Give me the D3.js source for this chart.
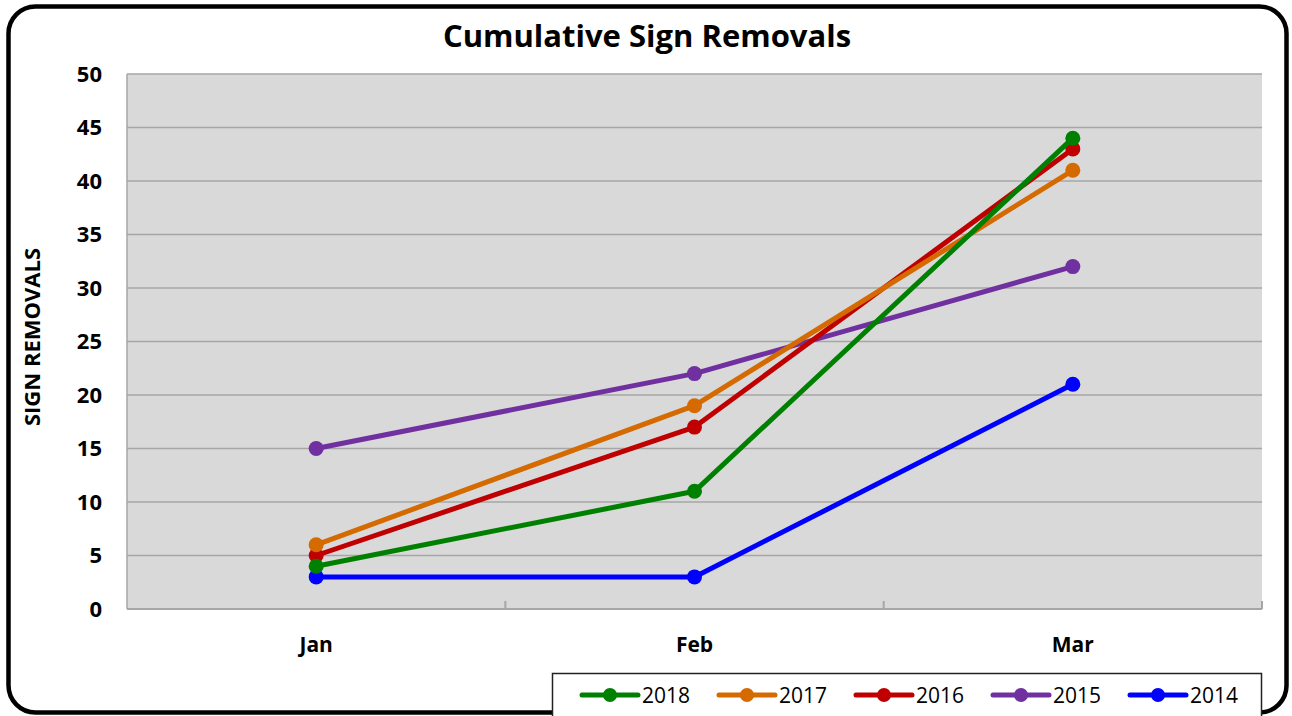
<!DOCTYPE html>
<html>
<head>
<meta charset="utf-8">
<script src="https://cdn.jsdelivr.net/npm/d3@7"></script>
<style>
  body { margin: 0; background: #fff; }
  svg text { font-family: "Open Sans", sans-serif; }
</style>
</head>
<body>
<div class="main__area"></div>
<script>
const months=["Jan","Feb","Mar"];
const seriesNames=["2018","2017","2016","2015","2014"];
const seriesColors=["#008000","#D46A00","#C00000","#7030A0","#0000FF"];
const values2018=[4, 11, 44];
const values2017=[6, 19, 41];
const values2016=[5, 17, 43];
const values2015=[15, 22, 32];
const values2014=[3, 3, 21];
const yTicks=[0,5,10,15,20,25,30,35,40,45,50];

const allValues=[values2018, values2017, values2016, values2015, values2014];

const width=1292;
const height=716;
const plot={ left:127, right:1262, top:74, bottom:609 };

const svgTag=d3.select(".main__area").append("svg")
    .attr("width", width)
    .attr("height", height);

// outer rounded frame
svgTag.append("rect")
    .attr("x", 8.5).attr("y", 6.5)
    .attr("width", 1278).attr("height", 706)
    .attr("rx", 27).attr("ry", 27)
    .attr("fill", "#fff")
    .attr("stroke", "#000")
    .attr("stroke-width", 4.5);

const x=d3.scaleBand().domain(months).range([plot.left, plot.right]);
const y=d3.scaleLinear().domain([0, 50]).range([plot.bottom, plot.top]);

svgTag.append("rect")
    .attr("x", plot.left).attr("y", plot.top)
    .attr("width", plot.right-plot.left).attr("height", plot.bottom-plot.top)
    .attr("fill", "#d9d9d9");

// horizontal grid
svgTag.append("g")
    .selectAll("line")
    .data(yTicks.filter(t => t>0))
    .join("line")
    .attr("x1", plot.left).attr("x2", plot.right)
    .attr("y1", d => y(d)).attr("y2", d => y(d))
    .attr("stroke", "#a6a6a6")
    .attr("stroke-width", 1.5);

// y axis labels
const yAxis=svgTag.append("g")
    .attr("transform", `translate(${plot.left},0)`)
    .call(d3.axisLeft(y).tickValues(yTicks).tickSize(0).tickPadding(25));
yAxis.select(".domain").remove();
yAxis.selectAll("text")
    .attr("font-family", "'Open Sans', sans-serif")
    .attr("font-size", 22).attr("font-weight", "bold").attr("fill", "#000");

// x axis: line + tick marks between categories
const xAxisG=svgTag.append("g");
xAxisG.append("line")
    .attr("x1", plot.left).attr("x2", plot.right)
    .attr("y1", plot.bottom).attr("y2", plot.bottom)
    .attr("stroke", "#a6a6a6").attr("stroke-width", 2);
xAxisG.append("line")
    .attr("x1", plot.left).attr("x2", plot.left)
    .attr("y1", plot.top).attr("y2", plot.bottom)
    .attr("stroke", "#a6a6a6").attr("stroke-width", 1.5);
const boundaries=months.slice(1).map(m => x(m)).concat([plot.right]);
xAxisG.selectAll(".tk")
    .data(boundaries)
    .join("line")
    .attr("x1", d => d).attr("x2", d => d)
    .attr("y1", plot.bottom-8).attr("y2", plot.bottom)
    .attr("stroke", "#a6a6a6").attr("stroke-width", 2);
xAxisG.selectAll(".lbl")
    .data(months)
    .join("text")
    .attr("x", d => x(d)+x.bandwidth()/2)
    .attr("y", 652)
    .attr("text-anchor", "middle")
    .attr("font-size", 21).attr("font-weight", "bold")
    .text(d => d);

// y axis title
svgTag.append("text")
    .attr("transform", "translate(40,337) rotate(-90)")
    .attr("text-anchor", "middle")
    .attr("font-size", 22).attr("font-weight", "bold")
    .text("SIGN REMOVALS");

// title
svgTag.append("text")
    .attr("x", 647).attr("y", 47)
    .attr("text-anchor", "middle")
    .attr("font-size", 31).attr("font-weight", "bold")
    .text("Cumulative Sign Removals");

// lines, drawn from 2014 up so 2018 is on top
const line=d3.line()
    .x((d, i) => x(months[i])+x.bandwidth()/2)
    .y(d => y(d));
const order=[4,3,2,1,0];
order.forEach(k => {
    const g=svgTag.append("g");
    g.append("path")
        .attr("d", line(allValues[k]))
        .attr("fill", "none")
        .attr("stroke", seriesColors[k])
        .attr("stroke-width", 5)
        .attr("stroke-linejoin", "round");
    g.selectAll("circle")
        .data(allValues[k])
        .join("circle")
        .attr("cx", (d, i) => x(months[i])+x.bandwidth()/2)
        .attr("cy", d => y(d))
        .attr("r", 7.5)
        .attr("fill", seriesColors[k]);
});

// legend
const legend=svgTag.append("g");
legend.append("rect")
    .attr("x", 552.5).attr("y", 673.5)
    .attr("width", 709).attr("height", 50)
    .attr("fill", "#fff")
    .attr("stroke", "#222").attr("stroke-width", 1.5);
seriesNames.forEach((name, i) => {
    const lx=582+i*137;
    legend.append("line")
        .attr("x1", lx).attr("x2", lx+56)
        .attr("y1", 695).attr("y2", 695)
        .attr("stroke", seriesColors[i]).attr("stroke-width", 5)
        .attr("stroke-linecap", "round");
    legend.append("circle")
        .attr("cx", lx+28).attr("cy", 695).attr("r", 7)
        .attr("fill", seriesColors[i]);
    legend.append("text")
        .attr("x", lx+60).attr("y", 703)
        .attr("font-family", "'Liberation Sans', sans-serif")
        .attr("font-size", 21)
        .text(name);
});
</script>
</body>
</html>
